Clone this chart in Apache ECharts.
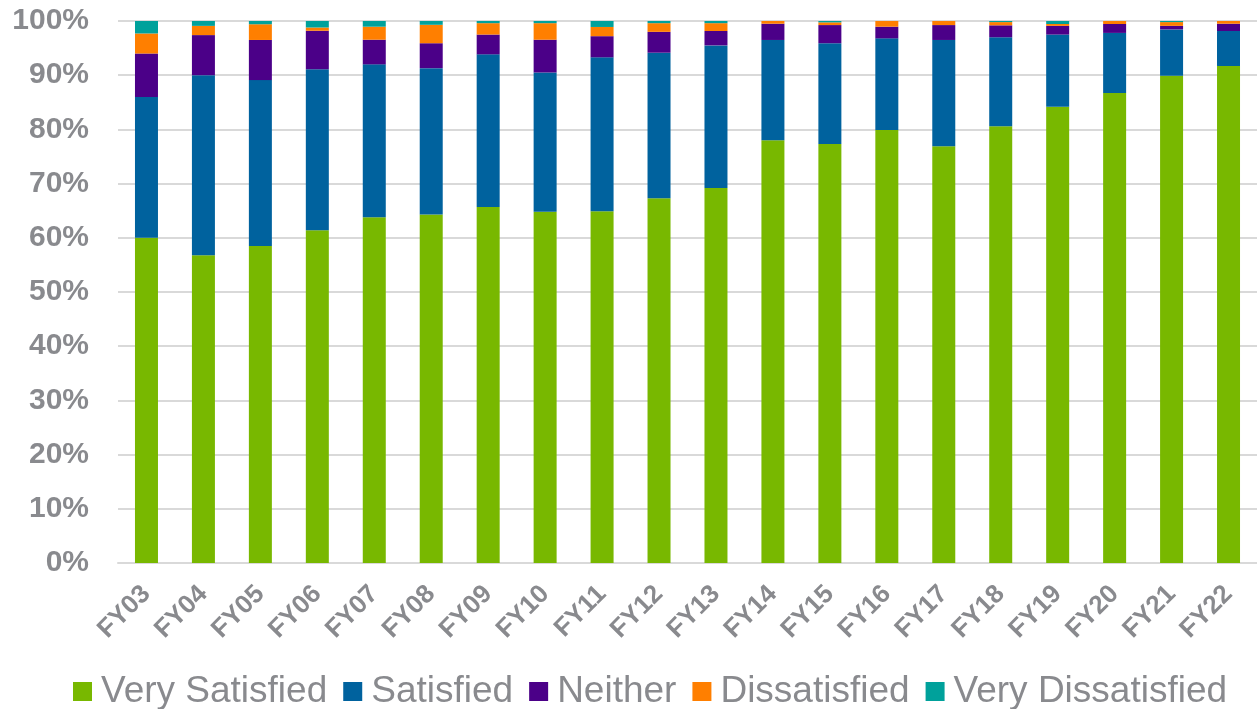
<!DOCTYPE html>
<html>
<head>
<meta charset="utf-8">
<script src="https://cdn.jsdelivr.net/npm/echarts@6/dist/echarts.min.js"></script>
<style>html,body{margin:0;padding:0;background:#fff;}#c{width:1257px;height:709px;}</style>
</head>
<body>
<div id="c"></div>
<script>
const categories = ['FY03','FY04','FY05','FY06','FY07','FY08','FY09','FY10','FY11','FY12','FY13','FY14','FY15','FY16','FY17','FY18','FY19','FY20','FY21','FY22'];
const verySatisfied = [60, 56.8, 58.5, 61.4, 63.8, 64.3, 65.7, 64.8, 64.9, 67.3, 69.2, 78, 77.3, 79.9, 76.9, 80.6, 84.2, 86.7, 89.9, 91.7];
const satisfied = [26, 33.2, 30.6, 29.7, 28.2, 27.0, 28.15, 25.7, 28.4, 26.85, 26.3, 18.5, 18.6, 16.9, 19.6, 16.4, 13.3, 11.1, 8.55, 6.45];
const neither = [8, 7.4, 7.4, 7.1, 4.55, 4.6, 3.65, 6.05, 3.9, 3.85, 2.65, 3.0, 3.35, 2.15, 2.75, 2.2, 1.6, 1.65, 0.65, 1.35];
const dissatisfied = [3.7, 1.7, 2.9, 0.6, 2.4, 3.4, 2.1, 3.05, 1.7, 1.6, 1.45, 0.5, 0.5, 1.05, 0.75, 0.6, 0.35, 0.55, 0.7, 0.5];
const veryDissatisfied = [2.3, 0.9, 0.6, 1.2, 1.05, 0.7, 0.4, 0.4, 1.1, 0.4, 0.4, 0, 0.25, 0, 0, 0.2, 0.55, 0, 0.2, 0];
const seriesNames = ['Very Satisfied','Satisfied','Neither','Dissatisfied','Very Dissatisfied'];
const seriesData = [verySatisfied, satisfied, neither, dissatisfied, veryDissatisfied];
const colors = ['#78B800','#00629E','#4B0088','#FF7F00','#00A19B'];
const gray = '#898A8E';

const chart = echarts.init(document.getElementById('c'));
chart.setOption({
  animation: false,
  color: colors,
  grid: { left: 118, top: 21, width: 1149, height: 542, containLabel: false },
  legend: {
    data: seriesNames,
    left: 68,
    top: 668,
    itemWidth: 19,
    itemHeight: 19,
    itemGap: 16,
    icon: 'rect',
    textStyle: { color: gray, fontSize: 37, fontFamily: 'Liberation Sans, Arial, sans-serif', padding: [0,0,0,4] }
  },
  xAxis: {
    type: 'category',
    data: categories,
    axisLine: { show: true, lineStyle: { color: '#D9D9D9', width: 2 } },
    axisTick: { show: false },
    axisLabel: { rotate: 45, color: gray, fontSize: 26, fontWeight: 'bold', fontFamily: 'Liberation Sans, Arial, sans-serif', margin: 27, interval: 0 }
  },
  yAxis: {
    type: 'value',
    min: 0, max: 100, interval: 10,
    axisLine: { show: false },
    axisTick: { show: false },
    splitLine: { lineStyle: { color: '#D9D9D9', width: 2 } },
    axisLabel: { formatter: '{value}%', color: gray, fontSize: 30, fontWeight: 'bold', fontFamily: 'Liberation Sans, Arial, sans-serif', margin: 29 }
  },
  series: seriesNames.map((n, i) => ({
    name: n,
    type: 'bar',
    stack: 'total',
    barWidth: 23,
    data: seriesData[i]
  }))
});
</script>
</body>
</html>
